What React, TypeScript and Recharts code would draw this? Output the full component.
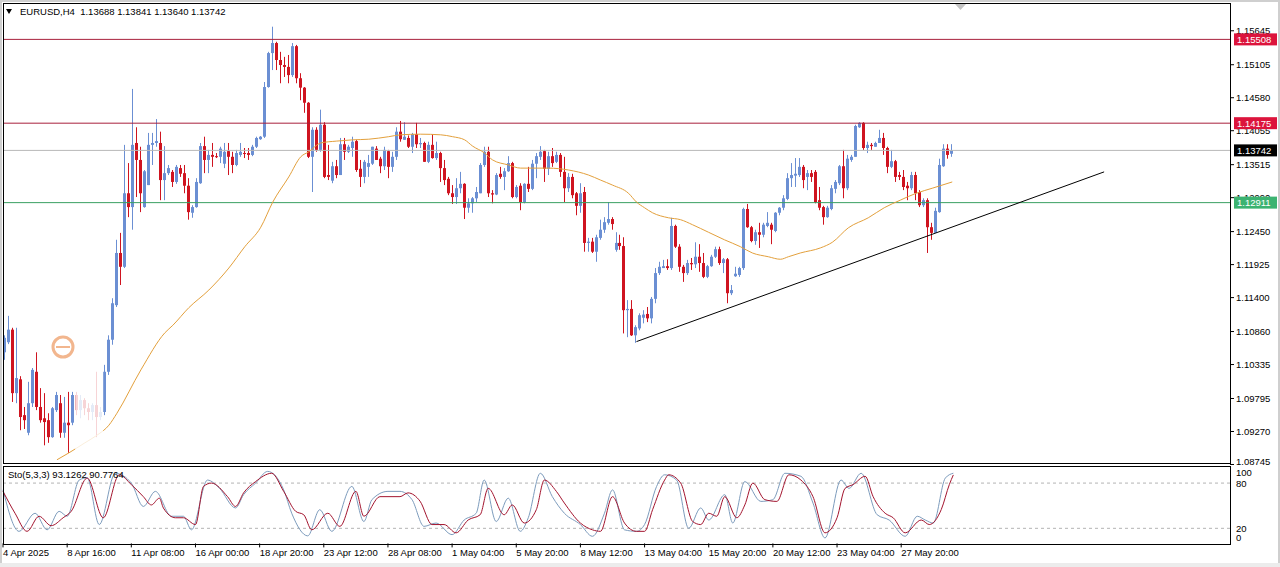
import { Bar, ComposedChart, Line, ReferenceArea, ReferenceLine, XAxis, YAxis } from "recharts";

const FONT = "'Liberation Sans', Arial, sans-serif";
const FS = 9.5;
const BULL = "#6b8fd3";
const BEAR = "#cf1420";

// EURUSD H4, one [open, high, low, close] per bar
const ohlcPart1 = [
  [1.1053, 1.108, 1.1041, 1.1076], [1.1069, 1.1111, 1.1066, 1.1089], [1.1089, 1.1092, 1.0974, 1.0988], [1.0988, 1.1092, 1.0972, 1.1012],
  [1.101, 1.1015, 1.0929, 1.095], [1.0953, 1.0966, 1.0931, 1.0945], [1.0925, 1.1006, 1.0921, 1.0972], [1.0972, 1.1028, 1.0966, 1.1025],
  [1.1022, 1.1053, 1.0961, 1.0966], [1.0966, 1.0996, 1.0941, 1.0945], [1.0948, 1.0988, 1.0905, 1.0942], [1.0945, 1.0956, 1.0909, 1.0918],
  [1.0918, 1.0966, 1.0917, 1.0964], [1.0961, 1.099, 1.0958, 1.0985], [1.0972, 1.0985, 1.0917, 1.0925], [1.0925, 1.0982, 1.0917, 1.0941],
  [1.0941, 1.099, 1.0893, 1.0937], [1.0941, 1.099, 1.0937, 1.0985], [1.0985, 1.099, 1.0953, 1.0961], [1.0961, 1.0985, 1.0948, 1.0977],
  [1.0977, 1.098, 1.0953, 1.0964], [1.0964, 1.0972, 1.0945, 1.0958], [1.0958, 1.0972, 1.0945, 1.0969], [1.0969, 1.1022, 1.0918, 1.095],
  [1.095, 1.0966, 1.0945, 1.0958], [1.0958, 1.1033, 1.0953, 1.1022], [1.1022, 1.108, 1.1017, 1.1073], [1.1073, 1.1139, 1.1065, 1.1131],
  [1.1128, 1.1232, 1.1125, 1.1211], [1.1211, 1.1243, 1.116, 1.1189], [1.1189, 1.1383, 1.1187, 1.1306], [1.1306, 1.1354, 1.1268, 1.1284],
  [1.1284, 1.1472, 1.1248, 1.1383], [1.1386, 1.1411, 1.13, 1.1359], [1.1359, 1.138, 1.1276, 1.1306], [1.1284, 1.1343, 1.1283, 1.1341],
  [1.1319, 1.1402, 1.1319, 1.1383], [1.1383, 1.1402, 1.1351, 1.1386], [1.1386, 1.1424, 1.138, 1.1389], [1.1386, 1.1404, 1.1295, 1.1327],
];
const ohlcPart2 = [
  [1.1327, 1.1381, 1.1295, 1.1338], [1.1338, 1.1351, 1.1335, 1.1346], [1.134, 1.1343, 1.1316, 1.1324], [1.1324, 1.1351, 1.1321, 1.1348],
  [1.1346, 1.1351, 1.1332, 1.1337], [1.1338, 1.1351, 1.1306, 1.1318], [1.1318, 1.133, 1.1264, 1.1276], [1.1275, 1.1287, 1.1267, 1.1284],
  [1.1284, 1.133, 1.1283, 1.1324], [1.1322, 1.1386, 1.1321, 1.1381], [1.1381, 1.1396, 1.1338, 1.1359], [1.1359, 1.1375, 1.1338, 1.1367],
  [1.1367, 1.1386, 1.1348, 1.1364], [1.1365, 1.137, 1.1362, 1.1364], [1.1364, 1.138, 1.1354, 1.1377], [1.1353, 1.1386, 1.1346, 1.1372],
  [1.1373, 1.1386, 1.1335, 1.1364], [1.1364, 1.1372, 1.1338, 1.1351], [1.1351, 1.1375, 1.1349, 1.137], [1.1367, 1.1386, 1.1364, 1.1372],
  [1.137, 1.1378, 1.1362, 1.1369], [1.137, 1.1378, 1.1359, 1.1367], [1.1367, 1.1383, 1.1365, 1.138], [1.138, 1.1396, 1.1378, 1.1394],
  [1.1392, 1.1397, 1.1391, 1.1396], [1.1396, 1.1483, 1.1394, 1.1475], [1.1475, 1.1531, 1.1474, 1.1529], [1.1529, 1.1571, 1.1502, 1.1545],
  [1.1545, 1.1547, 1.1502, 1.1518], [1.1518, 1.1531, 1.1481, 1.151], [1.151, 1.1523, 1.1491, 1.1507], [1.1507, 1.1526, 1.1481, 1.1494],
  [1.1494, 1.1545, 1.1491, 1.154], [1.154, 1.1542, 1.1481, 1.1489], [1.1489, 1.1497, 1.1454, 1.1474], [1.1474, 1.1475, 1.1434, 1.145],
  [1.145, 1.1451, 1.1362, 1.1364], [1.1364, 1.1411, 1.1308, 1.1407], [1.1407, 1.1411, 1.1372, 1.1375], [1.1375, 1.1439, 1.1372, 1.1415],
];
const ohlcPart3 = [
  [1.1415, 1.1419, 1.133, 1.1332], [1.1335, 1.1383, 1.1327, 1.1332], [1.1326, 1.1356, 1.1322, 1.1349], [1.1349, 1.1359, 1.133, 1.1335],
  [1.1335, 1.1394, 1.1335, 1.1384], [1.1384, 1.1394, 1.1359, 1.1372], [1.1372, 1.1383, 1.137, 1.138], [1.1378, 1.1396, 1.1364, 1.1388],
  [1.1389, 1.1391, 1.134, 1.1343], [1.1345, 1.1359, 1.1316, 1.1332], [1.1332, 1.1359, 1.1322, 1.1356], [1.1348, 1.1367, 1.1332, 1.1354],
  [1.1353, 1.138, 1.1351, 1.138], [1.1377, 1.1381, 1.1359, 1.1359], [1.1361, 1.1364, 1.1338, 1.1349], [1.1349, 1.138, 1.1343, 1.1375],
  [1.1373, 1.1375, 1.133, 1.1348], [1.1348, 1.1372, 1.134, 1.1364], [1.1364, 1.1411, 1.1359, 1.1404], [1.1404, 1.1421, 1.1388, 1.1392],
  [1.1391, 1.1419, 1.1391, 1.1396], [1.1394, 1.1398, 1.1378, 1.138], [1.138, 1.1402, 1.137, 1.14], [1.14, 1.1418, 1.1378, 1.1384],
  [1.1384, 1.1394, 1.1378, 1.1386], [1.1386, 1.1388, 1.1356, 1.1356], [1.1356, 1.1388, 1.1354, 1.1383], [1.1383, 1.14, 1.1361, 1.1362],
  [1.1362, 1.1388, 1.1359, 1.137], [1.137, 1.1372, 1.1324, 1.1346], [1.1346, 1.1359, 1.1319, 1.1327], [1.1329, 1.1332, 1.1303, 1.1306],
  [1.1306, 1.1319, 1.1289, 1.13], [1.13, 1.133, 1.1289, 1.1314], [1.1314, 1.134, 1.1306, 1.1321], [1.1321, 1.1322, 1.1265, 1.1283],
  [1.1283, 1.1298, 1.1275, 1.129], [1.129, 1.13, 1.1275, 1.1298], [1.1298, 1.1316, 1.1292, 1.1308], [1.1306, 1.1354, 1.1306, 1.1351],
];
const ohlcPart4 = [
  [1.1351, 1.138, 1.1348, 1.1372], [1.1372, 1.138, 1.13, 1.1306], [1.1306, 1.1311, 1.129, 1.1304], [1.1304, 1.1338, 1.1303, 1.1335],
  [1.1337, 1.1348, 1.1329, 1.1332], [1.1332, 1.1346, 1.1311, 1.1341], [1.1341, 1.1365, 1.134, 1.1354], [1.1354, 1.1356, 1.1298, 1.13],
  [1.13, 1.1319, 1.1298, 1.1316], [1.1318, 1.1322, 1.1279, 1.1292], [1.1292, 1.1322, 1.129, 1.1321], [1.1321, 1.1348, 1.1308, 1.1313],
  [1.1313, 1.1359, 1.1311, 1.1353], [1.1353, 1.137, 1.133, 1.1365], [1.1364, 1.1381, 1.1359, 1.1372], [1.1373, 1.1375, 1.1324, 1.1345],
  [1.1345, 1.1372, 1.1335, 1.1365], [1.1365, 1.1378, 1.1348, 1.1354], [1.1356, 1.1372, 1.1354, 1.1367], [1.1367, 1.137, 1.1332, 1.134],
  [1.134, 1.1364, 1.1292, 1.1314], [1.1314, 1.1338, 1.1308, 1.1332], [1.1332, 1.1337, 1.1298, 1.1303], [1.1306, 1.1308, 1.1271, 1.1286],
  [1.1286, 1.1322, 1.1275, 1.1306], [1.1308, 1.1316, 1.1213, 1.1227], [1.1227, 1.1235, 1.1213, 1.1229], [1.1229, 1.1235, 1.1211, 1.1213],
  [1.1213, 1.124, 1.1197, 1.1236], [1.1235, 1.1264, 1.1232, 1.1248], [1.1248, 1.1268, 1.1243, 1.126], [1.1259, 1.1292, 1.1256, 1.1265],
  [1.1265, 1.1268, 1.1248, 1.1257], [1.1216, 1.1244, 1.1213, 1.1227], [1.1227, 1.124, 1.1216, 1.1222], [1.1222, 1.1236, 1.1083, 1.112],
  [1.112, 1.1136, 1.1077, 1.1122], [1.1122, 1.1136, 1.1079, 1.108], [1.108, 1.1096, 1.1068, 1.1093], [1.1091, 1.1115, 1.1088, 1.1112],
];
const ohlcPart5 = [
  [1.1108, 1.112, 1.1099, 1.1113], [1.1114, 1.1125, 1.1101, 1.1107], [1.1107, 1.1141, 1.1099, 1.1138], [1.1138, 1.1187, 1.1131, 1.1179],
  [1.1179, 1.1197, 1.1176, 1.1189], [1.1187, 1.12, 1.1187, 1.119], [1.119, 1.1201, 1.1184, 1.1187], [1.1187, 1.1267, 1.1184, 1.1254],
  [1.1254, 1.1256, 1.1219, 1.1221], [1.1221, 1.1225, 1.1181, 1.1189], [1.1189, 1.1192, 1.1165, 1.1179], [1.1179, 1.12, 1.1176, 1.1195],
  [1.1195, 1.1203, 1.1184, 1.1193], [1.1193, 1.1228, 1.1187, 1.1205], [1.1205, 1.1225, 1.1181, 1.1195], [1.1195, 1.1211, 1.1171, 1.1173],
  [1.1173, 1.1192, 1.1171, 1.119], [1.119, 1.1208, 1.1189, 1.1205], [1.1205, 1.1221, 1.1203, 1.1217], [1.1217, 1.1221, 1.1192, 1.1195],
  [1.1195, 1.1203, 1.1179, 1.1201], [1.1201, 1.1203, 1.1131, 1.1147], [1.1147, 1.116, 1.1144, 1.1152], [1.1174, 1.1189, 1.1173, 1.1178],
  [1.1176, 1.1189, 1.1173, 1.1187], [1.1187, 1.1283, 1.1184, 1.1281], [1.1281, 1.1289, 1.1251, 1.1252], [1.1252, 1.1254, 1.1228, 1.123],
  [1.123, 1.1248, 1.1224, 1.1244], [1.1244, 1.1259, 1.1219, 1.124], [1.124, 1.1259, 1.1236, 1.1256], [1.1254, 1.1276, 1.1252, 1.1259],
  [1.1256, 1.1259, 1.1225, 1.1248], [1.1246, 1.1276, 1.1244, 1.1275], [1.1275, 1.1284, 1.1271, 1.1283], [1.1283, 1.1303, 1.1279, 1.1298],
  [1.1297, 1.1338, 1.1295, 1.133], [1.133, 1.1354, 1.1316, 1.1335], [1.1334, 1.1362, 1.1316, 1.1337], [1.1335, 1.1362, 1.1332, 1.1348],
];
const ohlcPart6 = [
  [1.1348, 1.1351, 1.1314, 1.1327], [1.1332, 1.1343, 1.1311, 1.1338], [1.1338, 1.1343, 1.1324, 1.1332], [1.134, 1.1343, 1.129, 1.1292],
  [1.1295, 1.1316, 1.1279, 1.1283], [1.1284, 1.1286, 1.1256, 1.1268], [1.1268, 1.1286, 1.1267, 1.1283], [1.1281, 1.1319, 1.1279, 1.1314],
  [1.1313, 1.1327, 1.1306, 1.1324], [1.1322, 1.1351, 1.1319, 1.1349], [1.1349, 1.1375, 1.1298, 1.1314], [1.1314, 1.1367, 1.1311, 1.1361],
  [1.1359, 1.1367, 1.1356, 1.1364], [1.1364, 1.1415, 1.1364, 1.1413], [1.1411, 1.1419, 1.141, 1.1418], [1.1418, 1.1419, 1.1375, 1.1378],
  [1.1378, 1.1388, 1.137, 1.1383], [1.1383, 1.1386, 1.1375, 1.1381], [1.138, 1.1388, 1.138, 1.1386], [1.1386, 1.1407, 1.1386, 1.1394],
  [1.1394, 1.1402, 1.1367, 1.1378], [1.1378, 1.138, 1.1338, 1.1348], [1.1348, 1.1375, 1.1346, 1.1357], [1.1357, 1.1359, 1.1324, 1.1332],
  [1.1335, 1.134, 1.1327, 1.1332], [1.1332, 1.1343, 1.1311, 1.1316], [1.1318, 1.1324, 1.1295, 1.1314], [1.1314, 1.134, 1.1311, 1.1335],
  [1.1335, 1.134, 1.1295, 1.1306], [1.1308, 1.1311, 1.1284, 1.1287], [1.1287, 1.1298, 1.1284, 1.1295], [1.1295, 1.1298, 1.1211, 1.1252],
  [1.1252, 1.1259, 1.1232, 1.1243], [1.1243, 1.1283, 1.1243, 1.1278], [1.1276, 1.1361, 1.1275, 1.1351], [1.1349, 1.1384, 1.1348, 1.1377],
  [1.1377, 1.1384, 1.1361, 1.1367], [1.13688, 1.13841, 1.1364, 1.13742],
];
const ohlc = [...ohlcPart1, ...ohlcPart2, ...ohlcPart3, ...ohlcPart4, ...ohlcPart5, ...ohlcPart6];

// moving average, read at [bar, price]
const maPoints = [
  [13, 1.0882], [16, 1.0893], [20, 1.0909], [23, 1.0921], [26, 1.0937], [28, 1.0956], [34, 1.1025], [40, 1.1084],
  [42, 1.1096], [46, 1.1124], [51, 1.1152], [56, 1.1187], [60, 1.1221], [64, 1.1252], [67, 1.1292], [71, 1.1332],
  [74, 1.1364], [76, 1.1372], [79, 1.1386], [83, 1.1389], [87, 1.1391], [91, 1.1392], [96, 1.1396], [99, 1.1399],
  [104, 1.14], [109, 1.1399], [112, 1.1396], [115, 1.1391], [117, 1.1381], [120, 1.137], [122, 1.1359], [126, 1.1351],
  [129, 1.1346], [136, 1.1346], [141, 1.1343], [146, 1.1335], [149, 1.1327], [152, 1.1319], [156, 1.1306], [158, 1.1292],
  [160, 1.1283], [162, 1.1275], [166, 1.1267], [169, 1.1264], [172, 1.1256], [176, 1.1244], [180, 1.1232], [184, 1.1221],
  [187, 1.1211], [191, 1.1205], [194, 1.1201], [196, 1.1205], [199, 1.1211], [204, 1.1219], [207, 1.1228], [211, 1.1251],
  [216, 1.1267], [220, 1.1283], [224, 1.1295], [228, 1.1306], [232, 1.1314], [237, 1.1324],
];

// Sto(5,3,3), read at [bar, value]
const stochMain = [
  [0, 71], [4, 16], [8, 40], [11, 18], [14, 42.5], [16, 36], [19, 84], [21, 87], [24, 25], [28, 93], [32, 80], [35, 49],
  [38, 69], [42, 36], [45, 36], [47, 18], [51, 84], [54, 73], [58, 47], [60, 64.6], [63, 80], [66, 95.5], [70, 71], [72, 40],
  [76, 10], [79, 44.7], [82, 16], [87, 75.6], [90, 29], [92, 58], [96, 69], [99, 69], [102, 58], [105, 22.6], [108, 27],
  [112, 11.6], [115, 31], [118, 40], [120, 84], [123, 29], [126, 60], [129, 16], [131, 34], [134, 93], [137, 62], [140, 40],
  [144, 25], [147, 9.4], [150, 40], [152, 71], [155, 18], [158, 16], [160, 25], [163, 75.6], [165, 91], [168, 84], [171, 20],
  [174, 47], [176, 31], [180, 64.6], [182, 27], [185, 82], [189, 55.7], [192, 58], [195, 93], [199, 89], [202, 53.5],
  [205, 7.2], [209, 84], [211, 73], [214, 93], [218, 38], [221, 31], [225, 9.4], [228, 36], [230, 31], [232, 27],
  [235, 86.6], [237, 93.1],
];
const stochSignal = [
  [0, 69], [3, 40], [6, 16], [9, 36], [12, 23.5], [15, 34], [17, 42.5], [21, 86.6], [25, 34], [29, 91], [32, 78], [35, 62],
  [37, 51], [39, 60], [40, 47], [43, 34], [45, 34], [48, 25], [50, 75.6], [52, 80], [56, 62], [58, 49], [60, 67], [63, 82],
  [67, 93], [70, 69], [73, 42.5], [75, 38], [77, 18], [81, 40], [84, 22.6], [88, 69], [90, 36], [94, 62], [99, 62], [101, 67],
  [104, 56], [107, 25], [110, 25], [113, 14], [116, 31], [119, 38], [121, 73], [125, 38], [127, 51], [130, 27], [133, 44.7],
  [135, 84], [138, 69], [140, 53.5], [144, 27], [147, 18], [149, 16], [152, 62], [155, 27], [158, 16], [160, 16], [162, 44.7],
  [165, 84], [166, 91], [169, 80], [172, 29], [174, 25], [176, 40], [178, 36], [180, 62], [183, 34], [185, 51], [187, 80],
  [190, 58], [193, 55.7], [196, 91], [199, 84], [202, 62], [205, 14], [208, 34], [210, 73], [212, 78], [215, 89], [217, 62],
  [220, 40], [222, 34], [225, 14], [229, 31], [231, 25], [234, 45], [236, 78], [237, 90.8],
];
const stochLast = [93.1262, 90.7764];

const priceTicks = [1.08745, 1.0927, 1.09795, 1.10335, 1.1086, 1.114, 1.11925, 1.1245, 1.1299, 1.13515, 1.14055, 1.1458, 1.15105, 1.15645];
const stochTicks = [0, 20, 80, 100];
const resistanceLevels = [1.15508, 1.14175];
const supportLevel = 1.12911;
const bidLevel = 1.13742;
const trendLine = [[158, 1.107], [275, 1.134]];

const dateLabels = [
  "4 Apr 2025", "8 Apr 16:00", "11 Apr 08:00", "16 Apr 00:00", "18 Apr 20:00", "23 Apr 12:00", "28 Apr 08:00",
  "1 May 04:00", "5 May 20:00", "8 May 12:00", "13 May 04:00", "15 May 20:00", "20 May 12:00", "23 May 04:00", "27 May 20:00",
];
const BARS_PER_LABEL = 16;
const FUTURE_BARS = 69;
const PRICE_DOMAIN = [1.0874, 1.16071];

const dateTicks = dateLabels.map((_, n) => n * BARS_PER_LABEL);
const maMap = new Map(maPoints.map(([k, v]) => [k, v]));
const kMap = new Map(stochMain.map(([k, v]) => [k, v]));
const dMap = new Map(stochSignal.map(([k, v]) => [k, v]));

const rows = Array.from({ length: ohlc.length + FUTURE_BARS }, (_, i) => {
  const c = ohlc[i];
  return {
    i,
    open: c ? c[0] : null,
    high: c ? c[1] : null,
    low: c ? c[2] : null,
    close: c ? c[3] : null,
    ma: maMap.get(i) ?? null,
    k: kMap.get(i) ?? null,
    d: dMap.get(i) ?? null,
  };
});

const candleRange = (r: any) => (r.open == null ? null : [r.low, r.high]);

function Candle(props: any) {
  const { x, y, width, height, payload } = props;
  if (!payload || payload.open == null) return <g />;
  const { open, high, low, close } = payload;
  let top = y;
  let h = height;
  if (h < 0) {
    top = y + h;
    h = -h;
  }
  const per = high > low ? h / (high - low) : 0;
  const cx = Math.floor(x + width / 2) + 0.5;
  const yOpen = top + (high - open) * per;
  const yClose = top + (high - close) * per;
  const color = close >= open ? BULL : BEAR;
  const bodyTop = Math.min(yOpen, yClose);
  const bodyH = Math.max(1, Math.abs(yClose - yOpen));
  return (
    <g>
      <line x1={cx} x2={cx} y1={top} y2={top + h} stroke={color} strokeWidth={1} />
      <rect x={cx - 1.5} y={bodyTop} width={3} height={bodyH} fill={color} />
    </g>
  );
}

function PriceTag(props: any) {
  const { viewBox, price, bg } = props;
  if (!viewBox) return null;
  const left = viewBox.x + viewBox.width + 4;
  const cy = viewBox.y;
  return (
    <g>
      <rect x={left} y={cy - 6} width={43} height={12} fill={bg} />
      <text x={left + 3} y={cy} dy="0.36em" fill="#fff" fontSize={FS} fontFamily={FONT}>
        {price.toFixed(5)}
      </text>
    </g>
  );
}

function PriceTick(props: any) {
  const { x, y, payload } = props;
  const v = payload.value;
  const shift = v === priceTicks[0] ? -2.5 : 0;
  return (
    <text x={x} y={y + shift} dy="0.36em" fontSize={FS} fontFamily={FONT} fill="#000">
      {v.toFixed(5)}
    </text>
  );
}

function StochTick(props: any) {
  const { x, y, payload } = props;
  const v = payload.value;
  const shift = v === 100 ? 5 : v === 0 ? -6 : 0;
  return (
    <text x={x} y={y + shift} dy="0.36em" fontSize={FS} fontFamily={FONT} fill="#000">
      {v}
    </text>
  );
}

function DateTick(props: any) {
  const { x, y, payload } = props;
  return (
    <text x={x} y={y} dy="0.71em" fontSize={FS} fontFamily={FONT} fill="#000">
      {dateLabels[payload.value / BARS_PER_LABEL]}
    </text>
  );
}

export default function App() {
  const last = ohlc[ohlc.length - 1];
  return (
    <div
      style={{
        position: "absolute",
        left: 0,
        top: 0,
        width: 1280,
        height: 567,
        background: "#fff",
        fontFamily: FONT,
        overflow: "hidden",
      }}
    >
      {/* price window */}
      <div style={{ position: "absolute", left: 0, top: 0 }}>
        <ComposedChart width={1280} height={467} data={rows} margin={{ top: 4, right: 0, bottom: 2.2, left: 3 }}>
          <XAxis dataKey="i" type="category" hide />
          <YAxis
            orientation="right"
            width={50}
            domain={PRICE_DOMAIN}
            ticks={priceTicks}
            interval={0}
            axisLine={false}
            tickSize={4}
            tickMargin={2}
            tickLine={{ stroke: "#000" }}
            tick={PriceTick}
          />
          {resistanceLevels.map((p) => (
            <ReferenceLine key={p} y={p} stroke="#a8203c" strokeWidth={1} />
          ))}
          <ReferenceLine y={bidLevel} stroke="#b8b8b8" strokeWidth={1} />
          <ReferenceLine y={supportLevel} stroke="#3a9f62" strokeWidth={1} />
          <ReferenceLine
            segment={[
              { x: trendLine[0][0], y: trendLine[0][1] },
              { x: trendLine[1][0], y: trendLine[1][1] },
            ]}
            stroke="#000"
            strokeWidth={1}
          />
          <Bar dataKey={candleRange} barSize={3} shape={Candle} isAnimationActive={false} />
          <Line
            type="monotone"
            dataKey="ma"
            stroke="#e3a03c"
            strokeWidth={1}
            dot={false}
            connectNulls
            isAnimationActive={false}
          />
        </ComposedChart>
      </div>

      {/* overlay: washed-out patch and price tags drawn above the axis labels */}
      <div style={{ position: "absolute", left: 0, top: 0, pointerEvents: "none" }}>
        <ComposedChart width={1280} height={467} data={rows} margin={{ top: 4, right: 0, bottom: 2.2, left: 3 }}>
          <XAxis dataKey="i" type="category" hide />
          <YAxis orientation="right" width={50} domain={PRICE_DOMAIN} tick={false} tickLine={false} axisLine={false} />
          <Line dataKey="ma" stroke="none" dot={false} connectNulls isAnimationActive={false} />
          <ReferenceArea x1={18} x2={25} y1={1.0877} y2={1.106} fill="#fff" fillOpacity={0.82} stroke="none" />
          {resistanceLevels.map((p) => (
            <ReferenceLine key={p} y={p} stroke="none" label={<PriceTag price={p} bg="#dc143c" />} />
          ))}
          <ReferenceLine y={bidLevel} stroke="none" label={<PriceTag price={bidLevel} bg="#000" />} />
          <ReferenceLine y={supportLevel} stroke="none" label={<PriceTag price={supportLevel} bg="#3cb371" />} />
        </ComposedChart>
      </div>

      {/* stochastic window */}
      <div style={{ position: "absolute", left: 0, top: 466 }}>
        <ComposedChart width={1280} height={101} data={rows} margin={{ top: 2, right: 0, bottom: 1.6, left: 3 }}>
          <XAxis
            dataKey="i"
            type="category"
            height={22}
            ticks={dateTicks}
            interval={0}
            axisLine={false}
            tickSize={4}
            tickMargin={2}
            tickLine={{ stroke: "#000" }}
            tick={DateTick}
          />
          <YAxis
            orientation="right"
            width={50}
            domain={[0, 100]}
            ticks={stochTicks}
            interval={0}
            axisLine={false}
            tickLine={false}
            tickSize={4}
            tickMargin={2}
            tick={StochTick}
          />
          <ReferenceLine y={80} stroke="#b4b4b4" strokeDasharray="3 3" />
          <ReferenceLine y={20} stroke="#b4b4b4" strokeDasharray="3 3" />
          <Line type="monotone" dataKey="k" stroke="#7d9cbd" strokeWidth={1} dot={false} connectNulls isAnimationActive={false} />
          <Line type="monotone" dataKey="d" stroke="#a3142e" strokeWidth={1} dot={false} connectNulls isAnimationActive={false} />
        </ComposedChart>
      </div>

      {/* frames */}
      <div style={{ position: "absolute", left: 0, top: 0, width: 1276, height: 565, borderTop: "2px solid #cfcfcf", borderLeft: "2px solid #cfcfcf", borderRight: "2px solid #cfcfcf" }} />
      <div style={{ position: "absolute", left: 3, top: 3, width: 1226, height: 459, border: "1px solid #000" }} />
      <div style={{ position: "absolute", left: 3, top: 466, width: 1226, height: 77, border: "1px solid #000" }} />
      <div style={{ position: "absolute", left: 0, top: 563, width: 1280, height: 4, background: "#ececec" }} />

      <svg style={{ position: "absolute", left: 0, top: 0 }} width={1280} height={567}>
        <polygon points="6,9 12,9 9,14" fill="#000" />
        <polygon points="955,4 966,4 960.5,10" fill="#c4c4c4" />
        <circle cx={63} cy={347} r={10} fill="none" stroke="#f2b68e" strokeWidth={3} />
        <line x1={56} x2={70} y1={347} y2={347} stroke="#f2b68e" strokeWidth={2} />
      </svg>

      <div style={{ position: "absolute", left: 20, top: 6, fontSize: FS, whiteSpace: "pre", color: "#000" }}>
        {`EURUSD,H4  ${last.map((v) => v.toFixed(5)).join(" ")}`}
      </div>
      <div style={{ position: "absolute", left: 8, top: 469, fontSize: FS, whiteSpace: "pre", color: "#000" }}>
        {`Sto(5,3,3) ${stochLast[0].toFixed(4)} ${stochLast[1].toFixed(4)}`}
      </div>
    </div>
  );
}
